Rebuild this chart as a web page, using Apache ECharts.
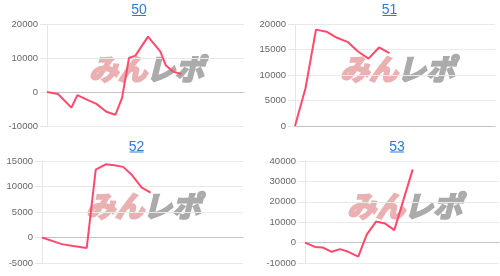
<!DOCTYPE html>
<html><head><meta charset="utf-8">
<script src="https://cdn.jsdelivr.net/npm/echarts@6/dist/echarts.min.js"></script>
<style>html,body{margin:0;padding:0;background:#fff;overflow:hidden}#c{width:500px;height:276px}</style>
</head><body><div id="c"></div>
<script>
// Panel titles (machine numbers)
const titles = ['50', '51', '52', '53'];
// x: progress position (0..10000 scale, axis hidden), y: medal difference
const x50 = [0, 558, 1239, 1543, 2051, 2508, 3015, 3472, 3807, 4162, 4487, 5127, 5756, 6025, 6396, 6822];
const y50 = [0, -600, -4600, -900, -2300, -3500, -5800, -6700, -1800, 10000, 10700, 16300, 11900, 7900, 6000, 5300];
const x51 = [0, 525, 1050, 1575, 2100, 2625, 3150, 3675, 4200, 4725];
const y51 = [0, 7400, 18900, 18500, 17300, 16500, 14600, 13200, 15400, 14300];
const x52 = [0, 984, 1555, 2226, 2673, 3169, 3592, 4039, 4486, 4961, 5405];
const y52 = [0, -1300, -1650, -2050, 13300, 14350, 14150, 13850, 12200, 9800, 8800];
const x53 = [0, 515, 912, 1376, 1804, 2232, 2747, 3180, 3660, 4124, 4603, 5552];
const y53 = [0, -2100, -2400, -4500, -3200, -4500, -6900, 3900, 10300, 9400, 6100, 35900];
// y-axis ranges
const yMins = [-10000, 0, -5000, -10000];
const yMaxs = [20000, 20000, 15000, 40000];
const yIntervals = [10000, 5000, 5000, 10000];
const xMax = 10000;

const xs = [x50, x51, x52, x53];
const ys = [y50, y51, y52, y53];

const grids = [
  {left: 47, top: 24, width: 197, height: 102},
  {left: 295, top: 24, width: 200, height: 102},
  {left: 42, top: 161, width: 201, height: 102},
  {left: 305, top: 161, width: 194, height: 102}
];
const titlePos = [[139, 10.5], [389.5, 10.5], [136.5, 147], [397, 147]];
const logoPos = [[89, 69], [340, 69], [86, 206], [347, 206]];

const FONT = '"Liberation Sans", Arial, sans-serif';
const LOGOFONT = 'italic bold 29px "Noto Sans CJK JP"';
const chart = echarts.init(document.getElementById('c'), null, {renderer: 'canvas'});

const graphic = [];
titles.forEach((t, i) => {
  graphic.push({
    type: 'text', z: 10,
    style: {text: t, x: titlePos[i][0], y: titlePos[i][1], textAlign: 'center', textVerticalAlign: 'middle',
      fill: '#2b7bd6', font: '14px ' + FONT}
  });
  graphic.push({
    type: 'rect', z: 10,
    shape: {x: titlePos[i][0] - 7, y: titlePos[i][1] + 4.5, width: 14, height: 1},
    style: {fill: '#2b7bd6'}
  });
  graphic.push({
    type: 'text', z: 0,
    style: {text: 'みん', x: logoPos[i][0], y: logoPos[i][1], textAlign: 'left', textVerticalAlign: 'middle',
      fill: '#eab0b2', stroke: '#eab0b2', lineWidth: 2.2, font: LOGOFONT}
  });
  graphic.push({
    type: 'text', z: 0,
    style: {text: 'レポ', x: logoPos[i][0] + 57, y: logoPos[i][1], textAlign: 'left', textVerticalAlign: 'middle',
      fill: '#ababab', stroke: '#ababab', lineWidth: 2.2, font: LOGOFONT}
  });
});

const option = {
  animation: false,
  backgroundColor: '#fff',
  grid: grids.map(g => Object.assign({containLabel: false}, g)),
  xAxis: grids.map((g, i) => ({
    type: 'value', gridIndex: i, min: 0, max: xMax,
    axisLine: {show: true, onZero: true, lineStyle: {color: '#c4c4c4', width: 1}},
    axisTick: {show: false}, axisLabel: {show: false}, splitLine: {show: false}
  })),
  yAxis: grids.map((g, i) => ({
    type: 'value', gridIndex: i, min: yMins[i], max: yMaxs[i], interval: yIntervals[i],
    axisLine: {show: true, lineStyle: {color: '#e6e6e6'}},
    axisTick: {show: true, length: 7, lineStyle: {color: '#e6e6e6'}},
    axisLabel: {color: '#666', fontSize: 9.5, fontFamily: FONT, margin: 9, formatter: v => String(v)},
    splitLine: {show: true, lineStyle: {color: '#e9e9e9', width: 1}}
  })),
  series: xs.map((xv, i) => ({
    type: 'line', xAxisIndex: i, yAxisIndex: i, z: 5,
    data: xv.map((x, k) => [x, ys[i][k]]),
    showSymbol: false, symbol: 'none',
    lineStyle: {color: '#ff4a6b', width: 2},
    itemStyle: {color: '#ff4a6b'}
  })),
  graphic: graphic
};
chart.setOption(option);
</script>
</body></html>
